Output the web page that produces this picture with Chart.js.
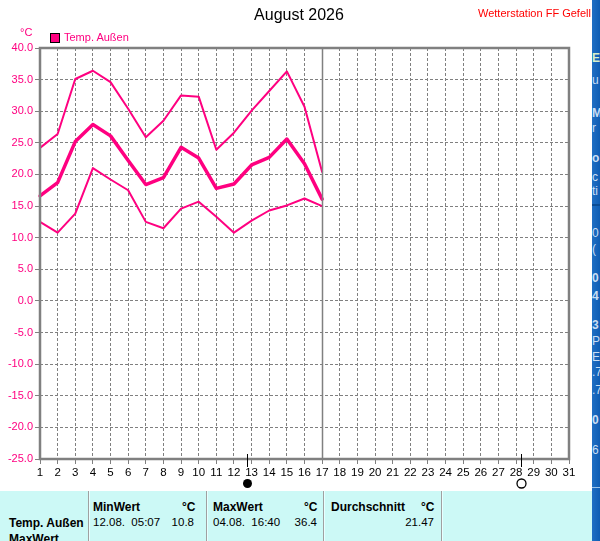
<!DOCTYPE html>
<html><head><meta charset="utf-8">
<script src="https://cdn.jsdelivr.net/npm/chart.js@4.4.1/dist/chart.umd.min.js"></script>
<style>
html,body{margin:0;padding:0;background:#fff;width:600px;height:541px;overflow:hidden;font-family:"Liberation Sans",Arial,sans-serif;}
#wrap{position:absolute;left:0;top:0;width:592px;height:491px;background:#fff;}
#c{position:absolute;left:0;top:0;}
.t{position:absolute;white-space:nowrap;line-height:1;}
#strip{position:absolute;left:592px;top:0;width:8px;height:541px;background:linear-gradient(90deg,#1f6fc4,#0f5db3);overflow:hidden;}
#strip .t{color:#c9def3;font-size:12px;left:0;}
#table{position:absolute;left:0;top:491px;width:592px;height:50px;background:#ccf9f6;overflow:hidden;font-size:12px;color:#000;}
#table .sep{position:absolute;top:0;width:1px;height:50px;background:#a0a0a0;border-right:1px solid #e8ffff;}
#table .b{font-weight:bold;}
</style></head>
<body>
<div id="wrap">
  <canvas id="c" width="592" height="491" style="width:592px;height:491px"></canvas>
  <div class="t" style="left:0;width:598px;text-align:center;top:7px;font-size:16px;color:#000;">August 2026</div>
  <div class="t" style="left:478px;top:8px;font-size:11px;color:#ff0000;">Wetterstation FF Gefell</div>
  <div class="t" style="left:20px;top:27px;font-size:11px;color:#ff0080;">°C</div>
  <div style="position:absolute;left:50px;top:33px;width:8px;height:8px;background:#ff0080;border:1px solid #000;"></div>
  <div class="t" style="left:64px;top:32px;font-size:11px;color:#ff0080;">Temp. Außen</div>
</div>
<div id="table">
  <div class="sep" style="left:88px"></div>
  <div class="sep" style="left:206px"></div>
  <div class="sep" style="left:323px"></div>
  <div class="sep" style="left:441px"></div>
  <div class="t b" style="left:93px;top:10px;">MinWert</div>
  <div class="t b" style="left:182px;top:10px;">°C</div>
  <div class="t b" style="left:213px;top:10px;">MaxWert</div>
  <div class="t b" style="left:304px;top:10px;">°C</div>
  <div class="t b" style="left:331px;top:10px;">Durchschnitt</div>
  <div class="t b" style="left:421px;top:10px;">°C</div>
  <div class="t b" style="left:9px;top:26px;">Temp. Außen</div>
  <div class="t" style="left:93px;top:26px;font-size:11.5px;">12.08.&nbsp; 05:07</div>
  <div class="t" style="left:150px;width:44px;text-align:right;top:26px;font-size:11.5px;">10.8</div>
  <div class="t" style="left:213px;top:26px;font-size:11.5px;">04.08.&nbsp; 16:40</div>
  <div class="t" style="left:272px;width:45px;text-align:right;top:26px;font-size:11.5px;">36.4</div>
  <div class="t" style="left:380px;width:54px;text-align:right;top:26px;font-size:11.5px;">21.47</div>
  <div class="t b" style="left:9px;top:42px;">MaxWert</div>
</div>
<div id="strip">
  <div class="t" style="top:52px;font-weight:bold;color:#d8f0c8;">E</div>
  <div class="t" style="top:74px;">u</div>
  <div class="t" style="top:107px;font-weight:bold;">M</div>
  <div class="t" style="top:122px;">r</div>
  <div class="t" style="top:152px;font-weight:bold;">o</div>
  <div class="t" style="top:171px;">c</div>
  <div class="t" style="top:185px;">ti</div>
  <div style="position:absolute;left:0;top:204px;width:8px;height:2px;background:#0a4c94;"></div>
  <div class="t" style="top:227px;">0</div>
  <div class="t" style="top:243px;">(</div>
  <div class="t" style="top:272px;font-weight:bold;">0</div>
  <div class="t" style="top:290px;font-weight:bold;">4</div>
  <div class="t" style="top:319px;font-weight:bold;">3</div>
  <div class="t" style="top:335px;">P</div>
  <div class="t" style="top:351px;">E</div>
  <div class="t" style="top:366px;">.7</div>
  <div class="t" style="top:384px;">.7</div>
  <div class="t" style="top:414px;font-weight:bold;">0</div>
  <div class="t" style="top:444px;">6</div>
  <div style="position:absolute;left:0;top:487px;width:8px;height:1px;background:#9cc4ea;"></div>
</div>
<script>
// ---- data ----
const days = ['1','2','3','4','5','6','7','8','9','10','11','12','13','14','15','16','17','18','19','20','21','22','23','24','25','26','27','28','29','30','31'];
const tempMax = [24.2, 26.4, 35.1, 36.4, 34.6, 30.4, 25.9, 28.5, 32.5, 32.3, 23.9, 26.6, 30.1, 33.2, 36.3, 30.7, 20.4];
const tempMean = [16.6, 18.7, 25.2, 27.9, 26.1, 22.2, 18.4, 19.5, 24.3, 22.6, 17.8, 18.5, 21.5, 22.7, 25.6, 21.7, 16.1];
const tempMin = [12.5, 10.8, 13.8, 21.0, 19.2, 17.5, 12.5, 11.5, 14.6, 15.7, 13.3, 10.8, 12.7, 14.3, 15.1, 16.2, 15.0];
const currentDay = 17;
const newMoonDay = 12.75;
const fullMoonDay = 28.3;

const PINK = '#ff0080';
const GREY = '#808080';

const framePlugin = {
  id: 'frame',
  afterDraw(chart) {
    const {ctx, chartArea: a, scales} = chart;
    const xs = scales.x;
    ctx.save();
    // current day line
    const xc = Math.round(xs.getPixelForValue(currentDay - 1)) + 0.5;
    ctx.strokeStyle = GREY; ctx.lineWidth = 1.5;
    ctx.beginPath(); ctx.moveTo(xc, a.top); ctx.lineTo(xc, a.bottom); ctx.stroke();
    // frame
    ctx.lineWidth = 2.5;
    ctx.strokeStyle = GREY;
    ctx.strokeRect(a.left, a.top, a.right - a.left, a.bottom - a.top);
    // moon markers
    ctx.strokeStyle = '#000'; ctx.fillStyle = '#000'; ctx.lineWidth = 1;
    [[newMoonDay, true], [fullMoonDay, false]].forEach(([d, filled]) => {
      const x = Math.round(xs.getPixelForValue(d - 1)) + 0.5;
      ctx.beginPath(); ctx.moveTo(x, a.bottom - 5); ctx.lineTo(x, a.bottom + 8); ctx.stroke();
      ctx.beginPath(); ctx.arc(x, a.bottom + 24.5, 4.5, 0, Math.PI * 2);
      if (filled) ctx.fill(); else { ctx.lineWidth = 1.3; ctx.stroke(); }
    });
    ctx.restore();
  }
};

const mk = (data, w) => ({
  data, borderColor: PINK, backgroundColor: PINK, borderWidth: w,
  pointRadius: 0, tension: 0, fill: false, borderJoinStyle: 'round', borderCapStyle: 'round'
});

new Chart(document.getElementById('c'), {
  type: 'line',
  data: { labels: days, datasets: [mk(tempMax, 2), mk(tempMean, 3.5), mk(tempMin, 2)] },
  options: {
    responsive: false, animation: false, devicePixelRatio: 1,
    layout: { padding: { top: 48, right: 23, left: 0, bottom: 0 } },
    plugins: { legend: { display: false }, title: { display: false }, tooltip: { enabled: false } },
    scales: {
      x: {
        type: 'category', offset: false,
        afterFit(s) { s.height = 32; },
        grid: { color: GREY, lineWidth: 1, tickLength: 5, tickColor: GREY, drawOnChartArea: true },
        border: { display: false, dash: [3, 2] },
        ticks: { autoSkip: false, maxRotation: 0, color: '#000', padding: 2, font: { family: 'Liberation Sans', size: 11.5 } }
      },
      y: {
        min: -25, max: 40,
        afterFit(s) { s.width = 40; },
        grid: { color: GREY, lineWidth: 1, tickLength: 5, tickColor: GREY },
        border: { display: false, dash: [3, 2] },
        ticks: { stepSize: 5, color: PINK, padding: 2, font: { family: 'Liberation Sans', size: 11 },
                 callback: v => Number(v).toFixed(1) }
      }
    }
  },
  plugins: [framePlugin]
});
</script>
</body></html>
